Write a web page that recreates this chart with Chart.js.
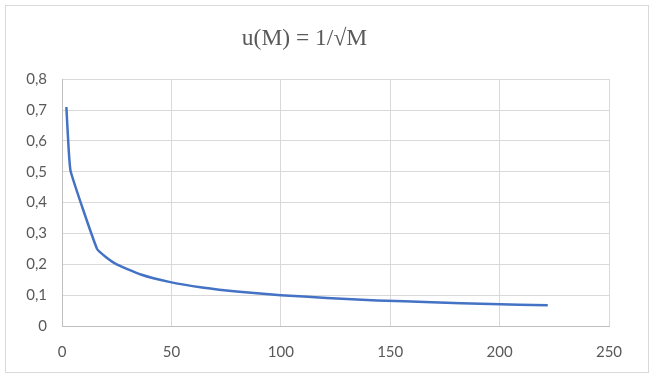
<!DOCTYPE html>
<html>
<head>
<meta charset="utf-8">
<script src="https://cdn.jsdelivr.net/npm/chart.js@4"></script>
<style>
  html, body { margin: 0; padding: 0; background: #fff; }
  #wrap { width: 655px; height: 385px; position: relative; }
</style>
</head>
<body>
<div id="wrap"><canvas id="chart" width="655" height="385"></canvas></div>
<script>
// values
const massValues = [2, 3, 4, 16, 20, 25, 36, 49, 64, 81, 100, 121, 144, 169, 196, 222];
const uValues = [0.71, 0.578, 0.50, 0.25, 0.224, 0.20, 0.167, 0.143, 0.125, 0.111, 0.10, 0.091, 0.083, 0.077, 0.071, 0.067];
const xTickValues = [0, 50, 100, 150, 200, 250];
const yTickValues = [0, 0.1, 0.2, 0.3, 0.4, 0.5, 0.6, 0.7, 0.8];
const titleText = 'u(M) = 1/\u221AM';

const points = massValues.map((m, i) => ({ x: m, y: uValues[i] }));
const fmtComma = (v) => (Math.round(v * 10) / 10).toString().replace('.', ',');

// outer light grey frame like the spreadsheet chart box
const framePlugin = {
    id: 'frame',
    beforeDraw(chart) {
        const c = chart.ctx;
        c.save();
        c.fillStyle = '#fff';
        c.fillRect(0, 0, chart.width, chart.height);
        c.strokeStyle = '#d9d9d9';
        c.lineWidth = 1;
        c.strokeRect(5.5, 5.5, 643, 367);
        c.restore();
    }
};

new Chart(document.getElementById('chart').getContext('2d'), {
    type: 'scatter',
    data: {
        datasets: [{
            data: points,
            showLine: true,
            borderColor: '#4472c4',
            borderWidth: 2.5,
            borderJoinStyle: 'round',
            pointRadius: 0,
            tension: 0.15,
            fill: false
        }]
    },
    options: {
        responsive: false,
        animation: false,
        layout: { padding: { left: 0, right: 46, top: 0, bottom: 0 } },
        plugins: {
            legend: { display: false },
            tooltip: { enabled: false },
            title: {
                display: true,
                text: titleText,
                color: '#595959',
                font: { family: 'Liberation Serif', size: 23.5, weight: 'normal', lineHeight: 1.2 },
                padding: { top: 25, bottom: 26 }
            }
        },
        scales: {
            x: {
                type: 'linear',
                min: 0,
                max: 250,
                afterBuildTicks: (axis) => { axis.ticks = xTickValues.map(v => ({ value: v })); },
                afterFit: (axis) => { axis.height = 59; },
                grid: { color: '#d9d9d9', lineWidth: 1, drawTicks: false },
                border: { color: '#bfbfbf', width: 1 },
                ticks: {
                    color: '#595959',
                    font: { family: 'Lato', size: 15 },
                    padding: 17,
                    maxRotation: 0
                }
            },
            y: {
                min: 0,
                max: 0.8,
                afterBuildTicks: (axis) => { axis.ticks = yTickValues.map(v => ({ value: v })); },
                afterFit: (axis) => { axis.width = 62; },
                grid: { color: '#d9d9d9', lineWidth: 1, drawTicks: false },
                border: { color: '#bfbfbf', width: 1 },
                ticks: {
                    color: '#595959',
                    font: { family: 'Lato', size: 15 },
                    padding: 15,
                    callback: (v) => fmtComma(v)
                }
            }
        }
    },
    plugins: [framePlugin]
});
</script>
</body>
</html>
